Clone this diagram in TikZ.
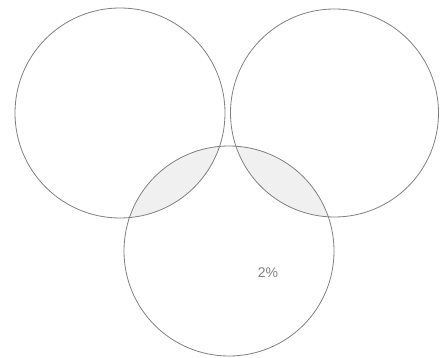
\documentclass[tikz,border=0pt]{standalone}
\usepackage{fontspec}
\setmainfont{Liberation Sans}
\begin{document}
\begin{tikzpicture}[x=1pt,y=-1pt,
  ring/.style={draw=black!50,line width=0.8pt},
  overlap/.style={fill=black!6}]
\useasboundingbox (0,0) rectangle (441,358);
\coordinate (c1) at (120,113);
\coordinate (c2) at (334.5,113);
\coordinate (c3) at (229,251);
\begin{scope}
  \clip (c3) circle[radius=105];
  \fill[overlap] (c1) circle[radius=105];
  \fill[overlap] (c2) circle[radius=104];
\end{scope}
\node[ring,circle,minimum size=210pt,inner sep=0pt] (a) at (c1) {};
\node[ring,circle,minimum size=208pt,inner sep=0pt] (b) at (c2) {};
\node[ring,circle,minimum size=210pt,inner sep=0pt] (c) at (c3) {};
\node[text=black!50,font=\fontsize{14}{16}\selectfont] (t) at (268,273) {2\%};
\end{tikzpicture}
\end{document}
